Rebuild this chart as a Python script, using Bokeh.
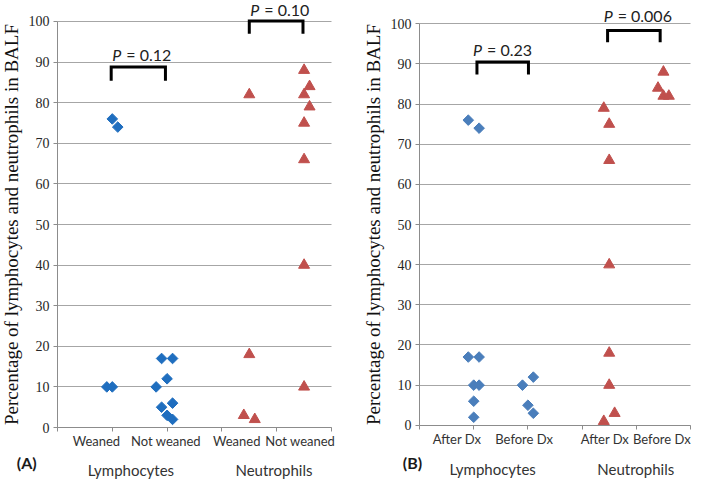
import numpy as np
from bokeh.plotting import figure
from bokeh.layouts import row
from bokeh.models import Label, FixedTicker, Range1d
from bokeh.embed import file_html
from bokeh.resources import INLINE

# ---------------- data ----------------
# Panel A: weaned / not weaned
a_lym_x = [1.0, 1.1, 0.9, 1.0, 1.9, 2.1, 2.0, 1.8, 2.1, 1.9, 2.0, 2.1]
a_lym_y = [76, 74, 10, 10, 17, 17, 12, 10, 6, 5, 3, 2]
a_neu_x = [3.5, 3.5, 3.4, 3.6, 4.5, 4.6, 4.5, 4.6, 4.5, 4.5, 4.5, 4.5]
a_neu_y = [82, 18, 3, 2, 88, 84, 82, 79, 75, 66, 40, 10]
a_cat_labels = ["Weaned", "Not weaned", "Weaned", "Not weaned"]
a_cat_x = [0.71, 1.98, 3.27, 4.43]
a_group_labels = ["Lymphocytes", "Neutrophils"]
a_group_x = [1.34, 3.95]
a_pvalues = ["0.12", "0.10"]
a_p_x = [1.2, 3.72]
a_p_y = [91.9, 103.0]
a_brackets = [(0.98, 1.97, 85.4, 88.8), (3.5, 4.48, 97.0, 100.1)]

# Panel B: after / before diagnosis
b_lym_x = [0.9, 1.1, 0.9, 1.1, 1.0, 1.1, 1.0, 1.0, 1.9, 2.1, 2.0, 2.1]
b_lym_y = [76, 74, 17, 17, 10, 10, 6, 2, 10, 12, 5, 3]
b_neu_x = [3.4, 3.5, 3.5, 3.5, 3.5, 3.5, 3.6, 3.4, 4.5, 4.4, 4.5, 4.6]
b_neu_y = [79, 75, 66, 40, 18, 10, 3, 1, 88, 84, 82, 82]
b_cat_labels = ["After Dx", "Before Dx", "After Dx", "Before Dx"]
b_cat_x = [0.69, 1.93, 3.42, 4.47]
b_group_labels = ["Lymphocytes", "Neutrophils"]
b_group_x = [1.35, 3.99]
b_pvalues = ["0.23", "0.006"]
b_p_x = [1.19, 3.6]
b_p_y = [93.5, 102.0]
b_brackets = [(1.06, 2.01, 87.4, 90.5), (3.47, 4.44, 95.4, 98.3)]

y_ticks = list(range(0, 101, 10))
x_ticks = [0, 1, 2, 3, 4, 5]

SANS = "Lato"
SERIF = "Liberation Serif"
RED = "#C0504D"
AXIS_GRAY = "#8C8C8C"


def make_panel(width, height, xr, yr, lym_color,
               lx, ly, nx, ny, cat_labels, cat_x, group_labels, group_x,
               pvals, px, py, brackets, letter, letter_x, offs):
    p = figure(width=width, height=height, output_backend="svg", toolbar_location=None,
               title=None, x_range=Range1d(*xr), y_range=Range1d(*yr),
               min_border_left=0, min_border_right=0,
               min_border_top=0, min_border_bottom=0)
    p.outline_line_color = None
    p.background_fill_color = "white"
    p.xgrid.visible = False
    p.ygrid.ticker = FixedTicker(ticks=y_ticks)
    p.ygrid.grid_line_color = "#A6A6A6"
    p.ygrid.grid_line_width = 1
    p.ygrid.cross_bounds = (0, 5)

    ya = p.yaxis[0]
    ya.fixed_location = 0
    ya.bounds = (0, 100)
    ya.ticker = FixedTicker(ticks=y_ticks)
    ya.axis_line_color = AXIS_GRAY
    ya.major_tick_line_color = AXIS_GRAY
    ya.major_tick_in = 0
    ya.major_tick_out = 4
    ya.minor_tick_line_color = None
    ya.major_label_text_font = SERIF
    ya.major_label_text_font_size = "14px"
    ya.major_label_text_color = "#262626"
    ya.major_label_standoff = 4
    ya.axis_label = "Percentage of lymphocytes and neutrophils in BALF"
    ya.axis_label_text_font = SERIF
    ya.axis_label_text_font_size = "19px"
    ya.axis_label_text_font_style = "normal"
    ya.axis_label_text_color = "#111111"
    ya.axis_label_standoff = 4

    xa = p.xaxis[0]
    xa.fixed_location = 0
    xa.bounds = (0, 5)
    xa.ticker = FixedTicker(ticks=x_ticks)
    xa.axis_line_color = AXIS_GRAY
    xa.major_tick_line_color = AXIS_GRAY
    xa.major_tick_in = 0
    xa.major_tick_out = 4
    xa.minor_tick_line_color = None
    xa.major_label_overrides = {t: "" for t in x_ticks}

    p.scatter(lx, ly, marker="square", angle=np.pi / 4, size=7.5,
              fill_color=lym_color, line_color=lym_color)
    p.scatter(nx, ny, marker="triangle", size=11,
              fill_color=RED, line_color=RED)

    for (x0, x1, leg, top) in brackets:
        p.line([x0, x0, x1, x1], [leg, top, top, leg], line_color="black",
               line_width=3, line_join="miter")

    for t, x, y in zip(pvals, px, py):
        p.add_layout(Label(x=x, y=y, text="P", text_align="right", x_offset=-2,
                           text_baseline="middle", text_font=SANS,
                           text_font_style="italic", text_font_size="16px",
                           text_color="#222222"))
        p.add_layout(Label(x=x, y=y, text="= " + t, text_align="left", x_offset=3,
                           text_baseline="middle", text_font=SANS,
                           text_font_size="16px", text_color="#222222"))

    for t, x in zip(cat_labels, cat_x):
        p.add_layout(Label(x=x, y=0, y_offset=offs[0], text=t, text_align="center",
                           text_baseline="middle", text_font=SANS,
                           text_font_size="13px", text_color="#333333"))
    p.add_layout(Label(x=letter_x, y=0, y_offset=offs[1], text=letter,
                       text_align="center", text_baseline="middle", text_font=SANS,
                       text_font_style="bold", text_font_size="16px",
                       text_color="#1a1a1a"))
    for t, x in zip(group_labels, group_x):
        p.add_layout(Label(x=x, y=0, y_offset=offs[2], text=t, text_align="center",
                           text_baseline="middle", text_font=SANS,
                           text_font_size="15px", text_color="#333333"))
    return p


H = 480
pA = make_panel(350, H, (-1.040, 5.347), (-13.05, 105.17), "#1F6EBF",
                a_lym_x, a_lym_y, a_neu_x, a_neu_y,
                a_cat_labels, a_cat_x, a_group_labels, a_group_x,
                a_pvalues, a_p_x, a_p_y, a_brackets, "(A)", -0.56, (-13, -35, -42))
pB = make_panel(343, H, (-1.273, 5.055), (-13.75, 105.8), "#4A7EBB",
                b_lym_x, b_lym_y, b_neu_x, b_neu_y,
                b_cat_labels, b_cat_x, b_group_labels, b_group_x,
                b_pvalues, b_p_x, b_p_y, b_brackets, "(B)", -0.13, (-14, -37, -44))

layout = row(pA, pB)
open("out.html", "w").write(file_html(layout, INLINE))
